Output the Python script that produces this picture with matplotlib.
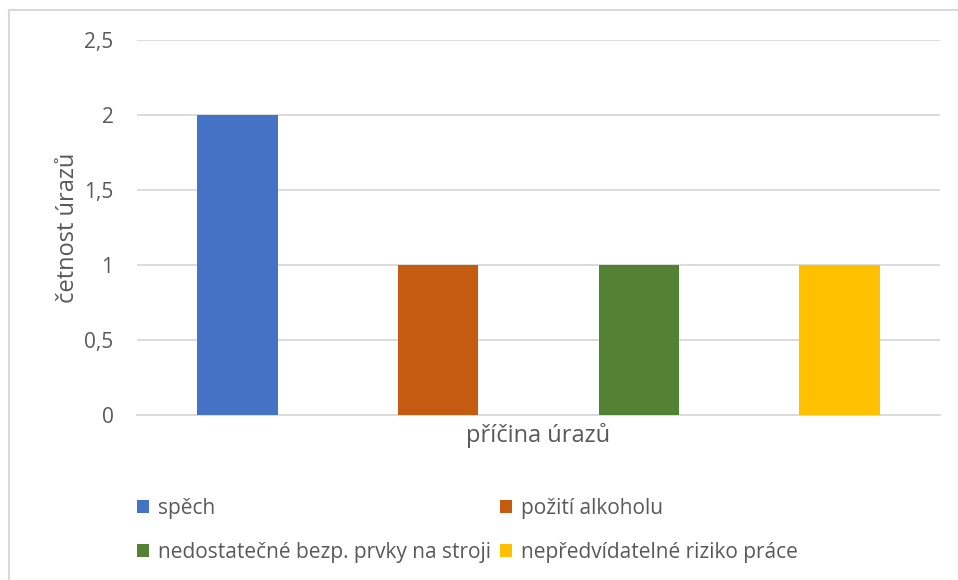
import matplotlib.pyplot as plt
from matplotlib.lines import Line2D
from matplotlib.patches import Patch
from matplotlib.ticker import FuncFormatter

plt.rcParams['font.family'] = ['Open Sans', 'DejaVu Sans']

series = ['spěch', 'požití alkoholu',
          'nedostatečné bezp. prvky na stroji', 'nepředvídatelné riziko práce']
values = [2, 1, 1, 1]
colors = ['#4472c4', '#c55a11', '#548235', '#ffc000']
yticks = [0, 0.5, 1, 1.5, 2, 2.5]

text_color = '#595959'
grid_color = '#d9d9d9'

fig = plt.figure(figsize=(9.58, 5.8), dpi=100)

# chart frame (top and left edges visible)
fig.add_artist(Line2D([9/958, 1], [1 - 10/580, 1 - 10/580], color=grid_color, lw=1.5))
fig.add_artist(Line2D([9/958, 9/958], [0, 1 - 10/580], color=grid_color, lw=1.5))

ax = fig.add_axes([137/958, 1 - 415/580, 803/958, 375/580])
for i, (v, c) in enumerate(zip(values, colors)):
    ax.bar(i, v, width=0.4, color=c, zorder=3)

ax.set_xlim(-0.5, 3.5)
ax.set_ylim(0, 2.5)
ax.set_yticks(yticks)
ax.yaxis.set_major_formatter(FuncFormatter(lambda v, p: ('%g' % v).replace('.', ',')))
ax.set_xticks([])
ax.grid(axis='y', color=grid_color, lw=1.3, zorder=0)
for s in ['top', 'right', 'left']:
    ax.spines[s].set_visible(False)
ax.spines['bottom'].set_color(grid_color)
ax.spines['bottom'].set_linewidth(1.3)
ax.tick_params(axis='y', length=0, pad=17, labelsize=15, labelcolor=text_color)

ax.set_ylabel('četnost úrazů', fontsize=17, color=text_color, labelpad=3)
ax.set_xlabel('příčina úrazů', fontsize=17, color=text_color, labelpad=6)

# legend filled row by row: matplotlib fills columns, so reorder
order = [0, 2, 1, 3]
handles = [Patch(facecolor=colors[i], edgecolor='none') for i in order]
labels = [series[i] for i in order]
fig.legend(handles, labels, loc='upper left', bbox_to_anchor=(118/958, 1 - 479/580),
           ncol=2, frameon=False, fontsize=15, labelcolor=text_color,
           handlelength=0.6, handleheight=0.6, handletextpad=0.4,
           columnspacing=0.45, labelspacing=1.1)

fig.savefig('out.png', dpi=100)
